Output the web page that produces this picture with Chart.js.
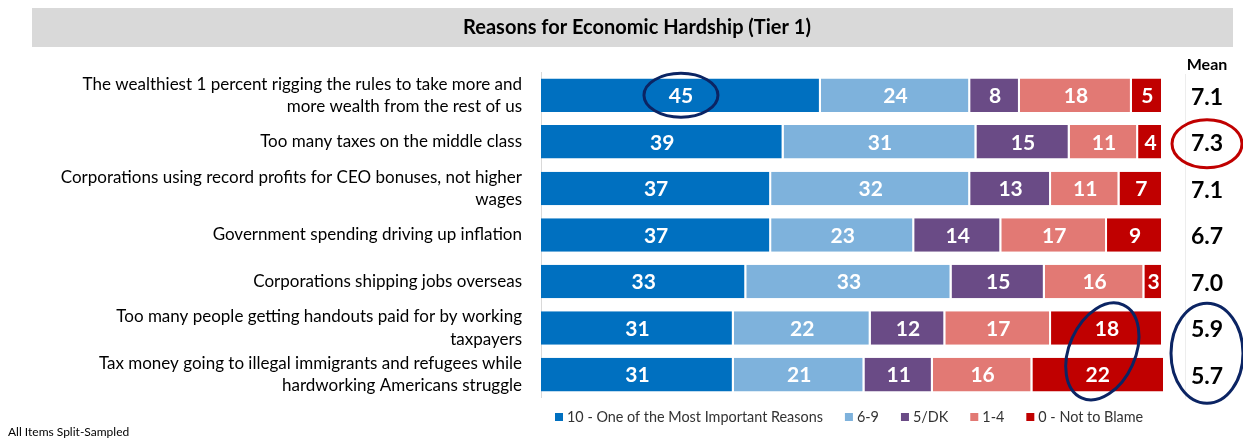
<!DOCTYPE html>
<html>
<head>
<meta charset="utf-8">
<script src="https://cdn.jsdelivr.net/npm/chart.js@4/dist/chart.umd.min.js"></script>
<style>
  html, body { margin: 0; padding: 0; background: #fff; }
  #wrap { position: relative; width: 1243px; height: 439px; }
</style>
</head>
<body>
<div id="wrap"><canvas id="hardshipChart" width="1243" height="439"></canvas></div>
<script>
const reasons = [
  ["The wealthiest 1 percent rigging the rules to take more and", "more wealth from the rest of us"],
  "Too many taxes on the middle class",
  ["Corporations using record profits for CEO bonuses, not higher", "wages"],
  "Government spending driving up inflation",
  "Corporations shipping jobs overseas",
  ["Too many people getting handouts paid for by working", "taxpayers"],
  ["Tax money going to illegal immigrants and refugees while", "hardworking Americans struggle"]
];
const seriesNames = ["10 - One of the Most Important Reasons", "6-9", "5/DK", "1-4", "0 - Not to Blame"];
const mostImportant = [45, 39, 37, 37, 33, 31, 31];
const sixToNine = [24, 31, 32, 23, 33, 22, 21];
const fiveDK = [8, 15, 13, 14, 15, 12, 11];
const oneToFour = [18, 11, 11, 17, 16, 17, 16];
const notToBlame = [5, 4, 7, 9, 3, 18, 22];
const means = [7.1, 7.3, 7.1, 6.7, 7.0, 5.9, 5.7];

const seriesColors = ['#0070C0', '#7EB2DC', '#6A4B86', '#E27974', '#C00000'];
const FONT = 'Lato, "Open Sans", sans-serif';
const MEAN_X = 1207;

// rings around bar labels (dataset + rows) and around mean values (rows)
const ringedBars = [
  { ds: 0, rows: [0], rx: 37, ry: 22, rot: 0, color: '#0B2463' },
  { ds: 4, rows: [5, 6], rx: 33, ry: 51, rot: 0.42, color: '#0B2463' }
];
const ringedMeans = [
  { rows: [1], rx: 35, ry: 24, color: '#C00000' },
  { rows: [5, 6], rx: 36, ry: 50, color: '#0B2463' }
];

function ring(ctx, x, y, rx, ry, rot, color) {
  ctx.save();
  ctx.beginPath();
  ctx.ellipse(x, y, rx, ry, rot, 0, Math.PI * 2);
  ctx.lineWidth = 3;
  ctx.strokeStyle = color;
  ctx.stroke();
  ctx.restore();
}

const hardshipDecor = {
  id: 'hardshipDecor',
  beforeDraw(chart) {
    const ctx = chart.ctx;
    const area = chart.chartArea;
    ctx.save();
    // title band
    ctx.fillStyle = '#D9D9D9';
    ctx.fillRect(32, 8, 1201, 39);
    ctx.fillStyle = '#000';
    ctx.font = `bold 20px ${FONT}`;
    ctx.textAlign = 'center';
    ctx.textBaseline = 'middle';
    ctx.fillText('Reasons for Economic Hardship (Tier 1)', 637, 28);
    // mean column header + divider
    ctx.font = `bold 16px ${FONT}`;
    ctx.fillText('Mean', MEAN_X, 65);
    ctx.strokeStyle = '#EDEDED';
    ctx.lineWidth = 1;
    ctx.beginPath();
    ctx.moveTo(1185.5, area.top + 2);
    ctx.lineTo(1185.5, area.bottom + 1);
    ctx.stroke();
    ctx.restore();
  },
  afterDatasetsDraw(chart) {
    const ctx = chart.ctx;
    const area = chart.chartArea;
    ctx.save();
    ctx.textAlign = 'center';
    ctx.textBaseline = 'middle';
    // segment values
    ctx.font = `bold 21px ${FONT}`;
    ctx.fillStyle = '#fff';
    chart.data.datasets.forEach((ds, i) => {
      chart.getDatasetMeta(i).data.forEach((bar, j) => {
        const right = Math.min(bar.x, area.right);
        ctx.fillText(String(ds.data[j]), (bar.base + right) / 2, bar.y + 1);
      });
    });
    // mean column
    const rows = chart.getDatasetMeta(0).data;
    ctx.font = `bold 23px ${FONT}`;
    ctx.fillStyle = '#000';
    means.forEach((m, j) => ctx.fillText(m.toFixed(1), MEAN_X, rows[j].y + 2));
    ctx.restore();

    ringedBars.forEach(r => {
      const bars = r.rows.map(j => chart.getDatasetMeta(r.ds).data[j]);
      const cx = bars.reduce((s, b) => s + (b.base + Math.min(b.x, area.right)) / 2, 0) / bars.length;
      const cy = bars.reduce((s, b) => s + b.y, 0) / bars.length;
      ring(ctx, cx, cy, r.rx, r.ry, r.rot, r.color);
    });
    ringedMeans.forEach(r => {
      const cy = r.rows.reduce((s, j) => s + rows[j].y, 0) / r.rows.length + 2;
      ring(ctx, MEAN_X, cy, r.rx, r.ry, 0, r.color);
    });
  },
  afterDraw(chart) {
    const ctx = chart.ctx;
    ctx.save();
    // legend
    ctx.font = `14.4px ${FONT}`;
    ctx.textAlign = 'left';
    ctx.textBaseline = 'middle';
    let x = 555;
    const y = 417;
    chart.data.datasets.forEach(ds => {
      ctx.fillStyle = ds.backgroundColor;
      ctx.fillRect(x, y - 4, 8, 8);
      ctx.fillStyle = '#333';
      ctx.fillText(ds.label, x + 12, y);
      x += 12 + ctx.measureText(ds.label).width + 22;
    });
    // footnote
    ctx.font = `12px ${FONT}`;
    ctx.fillStyle = '#000';
    ctx.fillText('All Items Split-Sampled', 8, 432);
    ctx.restore();
  }
};

const seriesData = [mostImportant, sixToNine, fiveDK, oneToFour, notToBlame];

new Chart(document.getElementById('hardshipChart'), {
  type: 'bar',
  data: {
    labels: reasons,
    datasets: seriesData.map((values, i) => ({
      label: seriesNames[i],
      data: values,
      backgroundColor: seriesColors[i],
      borderColor: '#fff',
      borderWidth: { top: 0, bottom: 0, left: 0, right: 2 },
      borderSkipped: false,
      barPercentage: 0.72,
      categoryPercentage: 1
    }))
  },
  options: {
    indexAxis: 'y',
    responsive: false,
    animation: false,
    layout: { padding: { top: 72, bottom: 38, left: 0, right: 80 } },
    scales: {
      x: { stacked: true, min: 0, max: 100, display: false },
      y: {
        stacked: true,
        grid: { display: false, drawTicks: false },
        border: { display: true, color: '#D9D9D9', width: 1 },
        ticks: {
          color: '#000',
          padding: 19,
          autoSkip: false,
          font: { family: FONT, size: 17, lineHeight: 1.3 }
        },
        afterFit(scale) { scale.width = 541; }
      }
    },
    plugins: {
      legend: { display: false },
      tooltip: { enabled: false }
    }
  },
  plugins: [hardshipDecor]
});
</script>
</body>
</html>
